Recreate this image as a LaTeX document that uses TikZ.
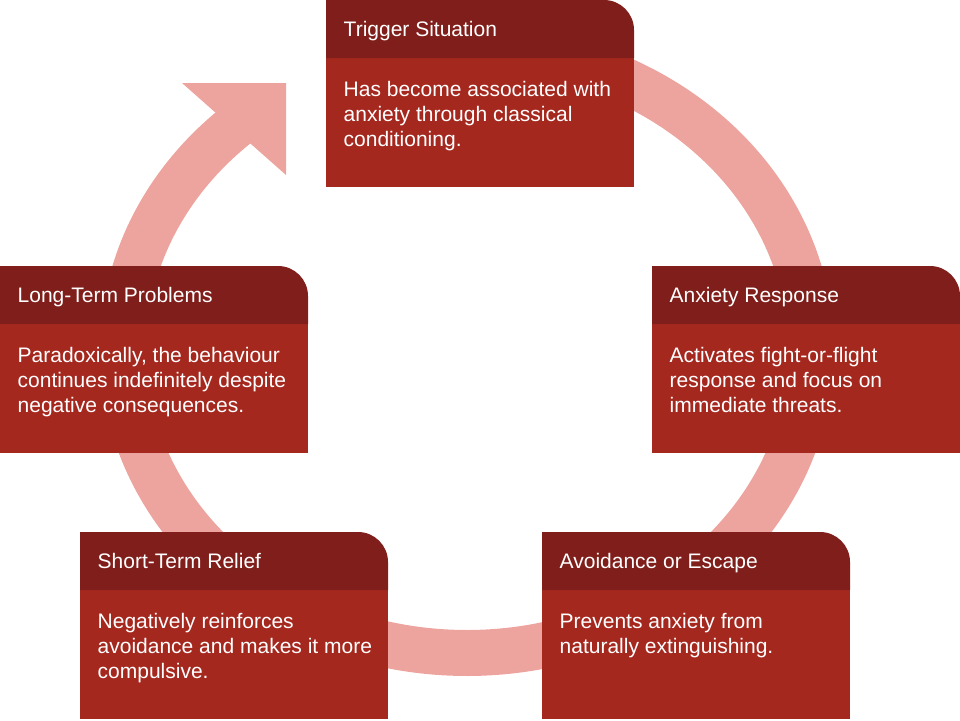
\documentclass[tikz,border=0pt]{standalone}
\usepackage{fontspec}
\setmainfont{Liberation Sans}
\definecolor{ringc}{RGB}{237,164,158}
\definecolor{headc}{RGB}{127,30,26}
\definecolor{bodyc}{RGB}{165,40,31}
\tikzset{
  headtext/.style={text=white, inner sep=0pt, anchor=base west, font=\fontsize{21pt}{25pt}\selectfont},
  bodytext/.style={text=white, inner sep=0pt, anchor=north west, align=left, font=\fontsize{21pt}{25pt}\selectfont},
  ringline/.style={draw=ringc, line width=46pt},
}
\newcommand\stagebox[5]{%
  \fill[bodyc] (#2,#3+58) rectangle (#2+308,#3+187);
  \fill[headc] (#2,#3+58) -- (#2,#3) -- (#2+278,#3) .. controls (#2+294.57,#3) and (#2+308,#3+13.43) .. (#2+308,#3+30) -- (#2+308,#3+58) -- cycle;
  \node[headtext] (#1h) at (#2+17.5,#3+36.7) {#4};
  \node[bodytext] (#1b) at (#2+17.5,#3+78.7) {\rule{0pt}{18pt}#5};
}
\begin{document}
\begin{tikzpicture}[x=1pt,y=-1pt]
\useasboundingbox (0,0) rectangle (960,720);
% cycle ring
\draw[ringline] plot[domain=-90:228.5, samples=240, smooth] ({467+344*cos(\x)},{350+303*sin(\x)});
\fill[ringc] (182,83) -- (286,83) -- (286,175) -- cycle;
% stages
\stagebox{trig}{326}{0}{Trigger Situation}{Has become associated with\\anxiety through classical\\conditioning.}
\stagebox{anx}{652}{266}{Anxiety Response}{Activates fight-or-flight\\response and focus on\\immediate threats.}
\stagebox{avoid}{542}{532}{Avoidance or Escape}{Prevents anxiety from\\naturally extinguishing.}
\stagebox{relief}{80}{532}{Short-Term Relief}{Negatively reinforces\\avoidance and makes it more\\compulsive.}
\stagebox{prob}{0}{266}{Long-Term Problems}{Paradoxically, the behaviour\\continues indefinitely despite\\negative consequences.}
\end{tikzpicture}
\end{document}
